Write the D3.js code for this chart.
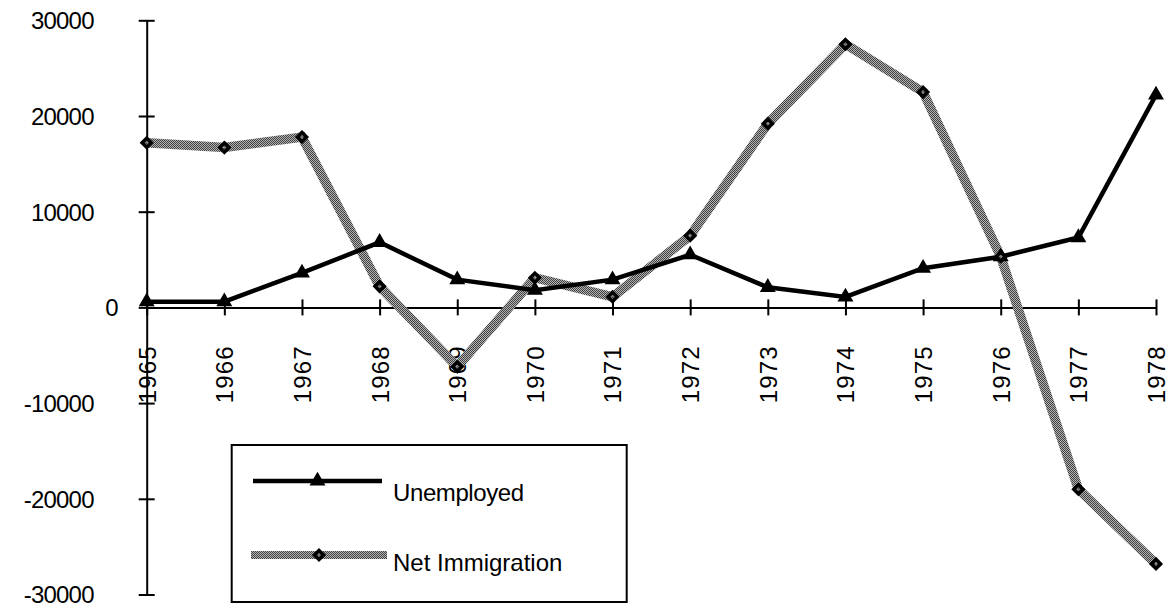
<!DOCTYPE html>
<html>
<head>
<meta charset="utf-8">
<script src="https://d3js.org/d3.v7.min.js"></script>
<style>
  body { margin:0; background:#fff; }
  svg text { font-family: "Liberation Sans", Arial, sans-serif; fill:#000; }
</style>
</head>
<body>
<div id="chart"></div>
<script>
var years = [1965,1966,1967,1968,1969,1970,1971,1972,1973,1974,1975,1976,1977,1978];
var unemployed = [600,600,3600,6800,2900,1800,2900,5500,2100,1100,4100,5300,7300,22200];
var netImmigration = [17200,16700,17800,2200,-6200,3100,1100,7500,19200,27500,22500,5300,-19000,-26800];
var yTicks = [-30000,-20000,-10000,0,10000,20000,30000];
var seriesNames = ['Unemployed','Net Immigration'];

var width = 1170,
    height = 603;

var svg = d3.select('#chart').append('svg')
    .attr('width', width)
    .attr('height', height)

// checker pattern for the grey series
var defs = svg.append('defs')
var pat = defs.append('pattern')
    .attr('id','checker')
    .attr('patternUnits','userSpaceOnUse')
    .attr('width',2)
    .attr('height',2)
pat.append('rect').attr('width',2).attr('height',2).attr('fill','#b4b4b4')
pat.append('rect').attr('width',1).attr('height',1).attr('fill','#404040')
pat.append('rect').attr('x',1).attr('y',1).attr('width',1).attr('height',1).attr('fill','#404040')

var xScale = d3.scaleLinear()
    .domain([years[0], years[years.length-1]])
    .range([146.7, 1156])

var yScale = d3.scaleLinear()
    .domain([-30000, 30000])
    .range([594.5, 20.3])

// y axis
var yAxis = d3.axisLeft(yScale)
    .tickValues(yTicks)
    .tickSizeOuter(0)
    .tickSizeInner(8)
    .tickFormat(function(d){ return String(d); })

var yGuide = svg.append('g')
    .attr('transform','translate(' + xScale(years[0]) + ',0)')
    .call(yAxis)
yGuide.select('.domain').attr('stroke','#000').attr('stroke-width',2)
yGuide.selectAll('.tick line').attr('x1',8).attr('stroke','#000').attr('stroke-width',2)
yGuide.selectAll('.tick text')
    .attr('font-size','24px')
    .attr('letter-spacing','-0.8px')
    .attr('font-family','"Liberation Sans", Arial, sans-serif')
    .attr('x', function(d){ return d === 0 ? -29 : -53; })
    .attr('dy','0.35em')

// x axis at zero
var xAxis = d3.axisBottom(xScale)
    .tickValues(years)
    .tickSizeOuter(0)
    .tickSizeInner(8)
    .tickFormat(d3.format('d'))

var xGuide = svg.append('g')
    .attr('transform','translate(0,' + yScale(0) + ')')
    .call(xAxis)
xGuide.select('.domain').attr('stroke','#000').attr('stroke-width',2)
xGuide.selectAll('.tick line').attr('y1',-8).attr('stroke','#000').attr('stroke-width',2)
xGuide.selectAll('.tick text')
    .attr('font-size','24px')
    .attr('letter-spacing','1.1px')
    .attr('font-family','"Liberation Sans", Arial, sans-serif')
    .attr('text-anchor','end')
    .attr('x',0)
    .attr('y',0)
    .attr('dy','0.35em')
    .attr('transform','translate(0,38) rotate(-90)')

var line = d3.line()
    .x(function(d,i){ return xScale(years[i]); })
    .y(function(d){ return yScale(d); })

// grey series line
svg.append('path')
    .datum(netImmigration)
    .attr('fill','none')
    .attr('stroke','url(#checker)')
    .attr('stroke-width',9.5)
    .attr('stroke-linejoin','miter')
    .attr('d', line)

// black series line
svg.append('path')
    .datum(unemployed)
    .attr('fill','none')
    .attr('stroke','#000')
    .attr('stroke-width',4.5)
    .attr('stroke-linejoin','miter')
    .attr('d', line)

var tri = d3.symbol().type(d3.symbolTriangle).size(110)
var sq = d3.symbol().type(d3.symbolSquare).size(100)
var sqIn = d3.symbol().type(d3.symbolSquare).size(9)

function addTriangle(g, x, y) {
    g.append('path')
        .attr('d', tri())
        .attr('fill','#000')
        .attr('transform','translate(' + x + ',' + y + ')')
}
function addDiamond(g, x, y) {
    g.append('path')
        .attr('d', sq())
        .attr('fill','#000')
        .attr('transform','translate(' + x + ',' + y + ') rotate(45)')
    g.append('path')
        .attr('d', sqIn())
        .attr('fill','url(#checker)')
        .attr('transform','translate(' + x + ',' + y + ') rotate(45)')
}

var marks = svg.append('g')
unemployed.forEach(function(d,i){
    addTriangle(marks, xScale(years[i]), yScale(d))
})
netImmigration.forEach(function(d,i){
    addDiamond(marks, xScale(years[i]), yScale(d))
})

// legend
var legend = svg.append('g')
legend.append('rect')
    .attr('x',231.7)
    .attr('y',445)
    .attr('width',395)
    .attr('height',157)
    .attr('fill','#fff')
    .attr('stroke','#000')
    .attr('stroke-width',2)

legend.append('line')
    .attr('x1',253).attr('x2',382)
    .attr('y1',481).attr('y2',481)
    .attr('stroke','#000')
    .attr('stroke-width',4.5)
addTriangle(legend, 317.5, 481)
legend.append('text')
    .attr('x',393)
    .attr('y',501)
    .attr('font-size','24px')
    .attr('letter-spacing','-0.4px')
    .text(seriesNames[0])

legend.append('line')
    .attr('x1',251).attr('x2',387)
    .attr('y1',555).attr('y2',555)
    .attr('stroke','url(#checker)')
    .attr('stroke-width',8)
addDiamond(legend, 319, 555)
legend.append('text')
    .attr('x',393)
    .attr('y',571)
    .attr('font-size','24px')
    .text(seriesNames[1])
</script>
</body>
</html>
